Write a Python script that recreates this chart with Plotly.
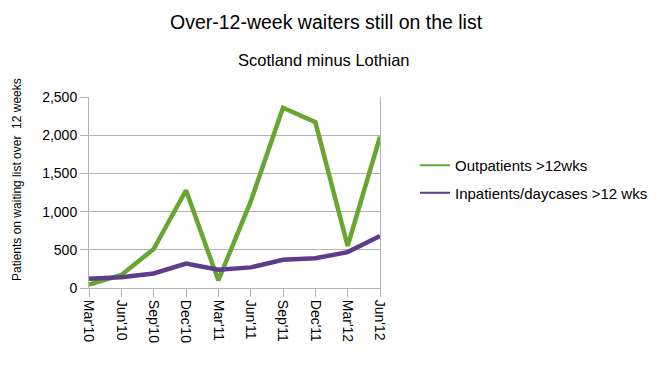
import plotly.graph_objects as go

categories = ["Mar'10", "Jun'10", "Sep'10", "Dec'10", "Mar'11", "Jun'11",
              "Sep'11", "Dec'11", "Mar'12", "Jun'12"]
outpatients = [45, 170, 510, 1280, 100, 1130, 2360, 2170, 550, 1980]
inpatients = [120, 140, 190, 320, 240, 270, 370, 390, 470, 680]
y_ticks = [0, 500, 1000, 1500, 2000, 2500]
y_tick_labels = ["0", "500", "1,000", "1,500", "2,000", "2,500"]
series_names = ["Outpatients >12wks", "Inpatients/daycases >12 wks"]

FONT = "Liberation Sans, Arial, sans-serif"
GREEN = "#67a631"
PURPLE = "#5e3b8b"
GRID = "#b3b3b3"

# page has an 8px body margin; work in page pixels and convert
OFF = 8
W, H = 660 - OFF, 365 - OFF
PL, PR, PT, PB = 89, 380, 97, 288  # plot area in page pixels
ml, mt = PL - OFF, PT - OFF
mr, mb = W - (PR - OFF), H - (PB - OFF)
pw, ph = PR - PL, PB - PT


def px_x(x):
    return (x - PL) / pw


def px_y(y):
    return (PB - y) / ph


fig = go.Figure()
for name, vals, col in zip(series_names, [outpatients, inpatients], [GREEN, PURPLE]):
    fig.add_trace(go.Scatter(x=categories, y=vals, mode="lines", name=name,
                             showlegend=False, hoverinfo="x+y",
                             line=dict(color=col, width=4.5)))
for i, (name, col) in enumerate(zip(series_names, [GREEN, PURPLE])):
    fig.add_trace(go.Scatter(x=[None], y=[None], mode="lines", name=name,
                             legendgroup=f"g{i}", showlegend=True,
                             line=dict(color=col, width=2)))

fig.update_layout(
    width=W, height=H,
    margin=dict(l=ml, r=mr, t=mt, b=mb, autoexpand=False),
    paper_bgcolor="white", plot_bgcolor="white",
    font=dict(family=FONT, color="black", size=14),
    showlegend=True,
    legend=dict(x=px_x(415), y=px_y(179), xanchor="left", yanchor="middle",
                font=dict(size=15, family=FONT), traceorder="grouped",
                tracegroupgap=5, itemwidth=30, borderwidth=0,
                bgcolor="rgba(0,0,0,0)"),
    xaxis=dict(type="category", range=[0, len(categories) - 1],
               tickangle=90, showgrid=False, showline=True,
               linecolor=GRID, linewidth=1, ticks="outside",
               tickcolor=GRID, ticklen=8, mirror=False, automargin=False,
               tickfont=dict(size=14, family=FONT), zeroline=False),
    yaxis=dict(range=[0, 2500], tickvals=y_ticks, ticktext=y_tick_labels,
               showgrid=True, gridcolor=GRID, gridwidth=1,
               showline=True, linecolor=GRID, linewidth=1,
               ticks="outside", tickcolor=GRID, ticklen=8,
               zeroline=False, mirror=True, automargin=False,
               tickfont=dict(size=14, family=FONT)),
    annotations=[
        dict(text="Over-12-week waiters still on the list",
             x=px_x(326), y=px_y(22), xref="paper", yref="paper",
             xanchor="center", yanchor="middle", showarrow=False,
             font=dict(size=19.5, family=FONT)),
        dict(text="Scotland minus Lothian",
             x=px_x(324), y=px_y(60), xref="paper", yref="paper",
             xanchor="center", yanchor="middle", showarrow=False,
             font=dict(size=16.5, family=FONT)),
        dict(text="Patients on waiting list over  12 weeks",
             x=px_x(17), y=px_y(180), xref="paper", yref="paper",
             xanchor="center", yanchor="middle", showarrow=False,
             textangle=-90, font=dict(size=12, family=FONT)),
    ],
)

fig.write_html("out.html")
